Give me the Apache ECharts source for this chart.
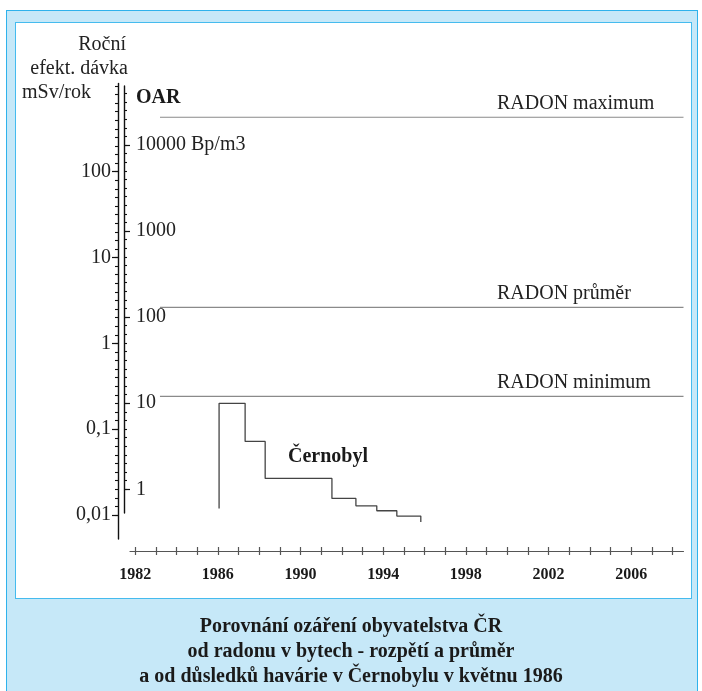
<!DOCTYPE html>
<html><head><meta charset="utf-8">
<script src="https://cdn.jsdelivr.net/npm/echarts@6/dist/echarts.min.js"></script>
<style>
html,body{margin:0;padding:0;background:#fff;}
#wrap{position:relative;width:702px;height:691px;overflow:hidden;}
#outer{position:absolute;left:6px;top:10px;width:692px;height:700px;background:#c6e8f8;border:1.5px solid #2eb2ec;box-sizing:border-box;}
#inner{position:absolute;left:15px;top:22px;width:677px;height:577px;background:#fff;border:1.5px solid #45bbee;box-sizing:border-box;}
#c{position:absolute;left:0;top:0;width:702px;height:691px;}
</style>
</head><body>
<div id="wrap"><div id="outer"></div><div id="inner"></div><div id="c"></div></div>
<script>
// ---- data ----
const years = [1982,1983,1984,1985,1986,1987,1988,1989,1990,1991,1992,1993,1994,1995,1996,1997,1998,1999,2000,2001,2002,2003,2004,2005,2006,2007,2008];
const yearLabels = [1982,1986,1990,1994,1998,2002,2006];
const doseTicks = [0.01,0.1,1,10,100];
const doseTickLabels = ['0,01','0,1','1','10','100'];
const radonTicks = [1,10,100,1000,10000];
const radonTickLabels = ['1','10','100','1000','10000 Bp/m3'];
const radonNames = ['RADON maximum','RADON průměr','RADON minimum'];
const radonValues = [21000,130,12];
const radonFrom = 1983.2;
const chernobylYears = [1986.06,1986.06,1987.32,1988.29,1991.52,1992.68,1993.69,1994.66,1995.82];
const chernobylDose  = [0.0119,0.2,0.072,0.0267,0.0156,0.0128,0.0112,0.0097,0.0083];
const axisTitle = ['Roční','efekt. dávka','mSv/rok'];
const chartTitle = ['Porovnání ozáření obyvatelstva ČR','od radonu v bytech - rozpětí a průměr','a od důsledků havárie v Černobylu v květnu 1986'];

// ---- layout ----
const SERIF = '"Liberation Serif","Times New Roman",serif';
const X_MIN = 1981.75, X_MAX = 2008.53;
const DOSE_MIN = 0.00525, DOSE_MAX = 1067;
const RADON_MIN = 0.53, RADON_MAX = 48440;

function minorTicks(fromExp, max){
  const out=[];
  for(let j=fromExp*10;;j++){const v=Math.pow(10,j/10); if(v>max) break; out.push(v);} return out;
}
const doseMinor = minorTicks(-2, DOSE_MAX);
const radonMinor = minorTicks(0, RADON_MAX);
function fmt(ticks, labels){
  return v => { const i = ticks.findIndex(t => Math.abs(Math.log10(t)-Math.log10(v))<1e-6); return i<0?'':labels[i]; };
}

const chart = echarts.init(document.getElementById('c'));
const grids = [
  {left:130,right:18.5,top:83.5,bottom:691-539},
  {left:130,right:18.5,top:86,bottom:691-513}
];
const series = [{
  type:'line', xAxisIndex:0, yAxisIndex:0, step:'end', symbol:'none',
  data: chernobylYears.map((y,i)=>[y,chernobylDose[i]]),
  lineStyle:{color:'#444',width:1.3}, silent:true, z:3
}];
radonValues.forEach((v,i)=>series.push({
  type:'line', xAxisIndex:1, yAxisIndex:2, symbol:'none', name:radonNames[i],
  data:[[radonFrom,v],[X_MAX,v]], lineStyle:{color:'#8a8a8a',width:1.2}, silent:true
}));

chart.setOption({
  animation:false,
  grid:grids,
  xAxis:[
    {gridIndex:0,type:'value',min:X_MIN,max:X_MAX,offset:12,
     axisLine:{show:true,lineStyle:{color:'#555',width:1.2}},
     axisTick:{show:true,customValues:years,length:4,lineStyle:{color:'#555',width:1.2}},
     axisLabel:{customValues:yearLabels,formatter:v=>String(Math.round(v)),fontFamily:SERIF,fontWeight:'bold',fontSize:16,color:'#1a1a1a',margin:16},
     splitLine:{show:false}},
    {gridIndex:1,type:'value',min:X_MIN,max:X_MAX,offset:38,
     axisLine:{show:false},
     axisTick:{show:true,inside:true,customValues:years,length:4,lineStyle:{color:'#555',width:1.2}},
     axisLabel:{show:false},splitLine:{show:false}}
  ],
  yAxis:[
    {gridIndex:0,type:'log',logBase:10,min:DOSE_MIN,max:DOSE_MAX,position:'left',offset:12,
     axisLine:{show:true,lineStyle:{color:'#111',width:1.4}},
     axisTick:{show:true,customValues:doseTicks,length:6,lineStyle:{color:'#111',width:1.2}},
     axisLabel:{customValues:doseTicks,formatter:fmt(doseTicks,doseTickLabels),fontFamily:SERIF,fontSize:20,color:'#222',margin:7},
     splitLine:{show:false},minorTick:{show:false}},
    {gridIndex:0,type:'log',logBase:10,min:DOSE_MIN,max:DOSE_MAX,position:'left',offset:12,
     axisLine:{show:false},
     axisTick:{show:true,customValues:doseMinor,length:3,lineStyle:{color:'#111',width:1.1}},
     axisLabel:{show:false},splitLine:{show:false}},
    {gridIndex:1,type:'log',logBase:10,min:RADON_MIN,max:RADON_MAX,position:'left',offset:6,
     axisLine:{show:true,lineStyle:{color:'#111',width:1.4}},
     axisTick:{show:true,inside:true,customValues:radonTicks,length:6,lineStyle:{color:'#111',width:1.2}},
     axisLabel:{inside:true,customValues:radonTicks,formatter:fmt(radonTicks,radonTickLabels),fontFamily:SERIF,fontSize:20,color:'#222',margin:12},
     splitLine:{show:false}},
    {gridIndex:1,type:'log',logBase:10,min:RADON_MIN,max:RADON_MAX,position:'left',offset:6,
     axisLine:{show:false},
     axisTick:{show:true,inside:true,customValues:radonMinor,length:3,lineStyle:{color:'#111',width:1.1}},
     axisLabel:{show:false},splitLine:{show:false}}
  ],
  series:series
});

const txt = (x,y,text,opt) => ({type:'text',x:x,y:y,z:10,silent:true,
  style:Object.assign({text:text,fontFamily:SERIF,fontSize:20,fill:'#222',textAlign:'left',textVerticalAlign:'middle'},opt||{})});
const g = [
  txt(126,45,axisTitle[0],{textAlign:'right'}),
  txt(128,69,axisTitle[1],{textAlign:'right'}),
  txt(22,93,axisTitle[2]),
  txt(136,98,'OAR',{fontWeight:'bold',fill:'#1a1a1a'}),
  txt(288,457,'Černobyl',{fontWeight:'bold',fill:'#1a1a1a'})
];
radonValues.forEach((v,i)=>{
  const py = chart.convertToPixel({yAxisIndex:2}, v);
  g.push(txt(497, py-13.5, radonNames[i]));
});
chartTitle.forEach((t,i)=>g.push(txt(351,627+i*25,t,{textAlign:'center',fontWeight:'bold',fill:'#1a1a1a'})));
chart.setOption({graphic:g});
</script>
</body></html>
